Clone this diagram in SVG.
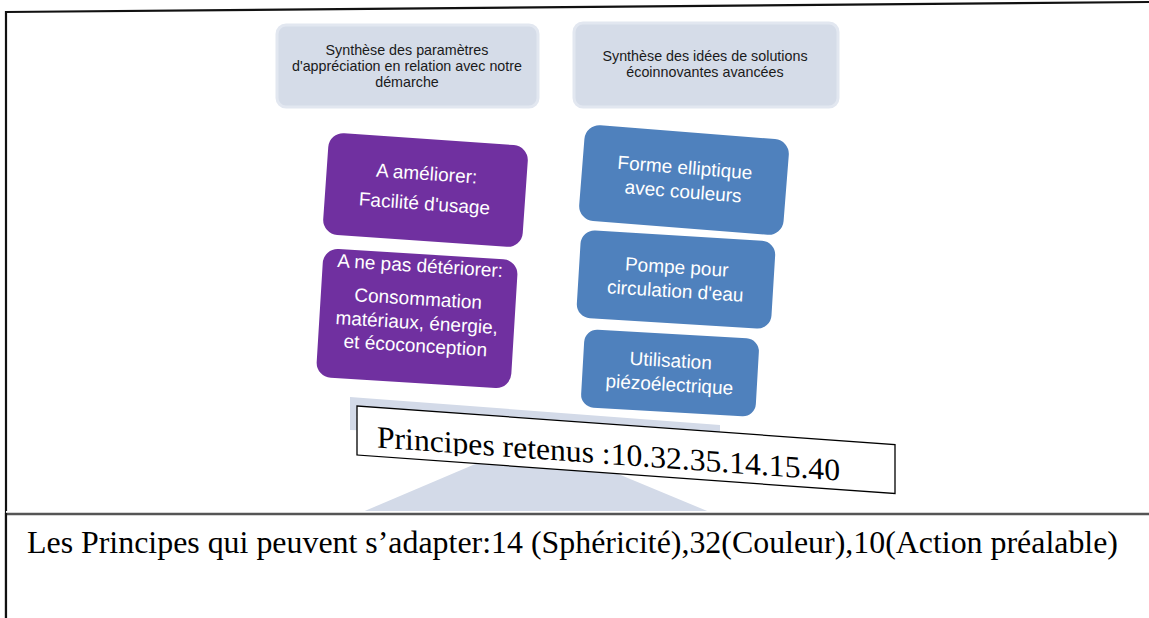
<svg xmlns="http://www.w3.org/2000/svg" width="1149" height="618" viewBox="0 0 1149 618">
  <defs>
    <style>
      .hdr { fill: #d5dce8; stroke: #e2e7f0; stroke-width: 3; }
      .hdrtxt { font-family: "Liberation Sans", Arial, sans-serif; font-size: 14.3px; fill: #1a1a1a; text-anchor: middle; }
      .purple { fill: #7030a0; }
      .blue { fill: #4f81bd; }
      .boxtxt { font-family: "Liberation Sans", Arial, sans-serif; font-size: 19px; fill: #ffffff; text-anchor: middle; }
      .balance { fill: #d3dae8; }
      .serif { font-family: "Liberation Serif", "Times New Roman", serif; fill: #000000; }
    </style>
    <clipPath id="labelClip">
      <rect x="0" y="0" width="539" height="43"/>
    </clipPath>
  </defs>

  <rect x="0" y="0" width="1149" height="618" fill="#ffffff"/>

  <!-- table frame -->
  <g id="frame" fill="none">
    <line x1="6" y1="12" x2="1149" y2="2" stroke="#111111" stroke-width="2.2"/>
    <line x1="6" y1="11" x2="6" y2="618" stroke="#111111" stroke-width="2.2"/>
  </g>

  <!-- balance base: beam and fulcrum -->
  <g id="balance">
    <polygon class="balance" points="350,397 720,425 720,440 350,430"/>
    <polygon class="balance" points="534,439 712,513 360,513"/>
  </g>

  <!-- header boxes -->
  <g id="header-left">
    <rect class="hdr" x="277" y="25" width="261" height="82" rx="9"/>
    <text class="hdrtxt" x="407" y="55">Synthèse des paramètres</text>
    <text class="hdrtxt" x="407" y="71">d'appréciation en relation avec notre</text>
    <text class="hdrtxt" x="407" y="87">démarche</text>
  </g>
  <g id="header-right">
    <rect class="hdr" x="574" y="23" width="264" height="84" rx="9"/>
    <text class="hdrtxt" x="705" y="61">Synthèse des idées de solutions</text>
    <text class="hdrtxt" x="705" y="77">écoinnovantes avancées</text>
  </g>

  <!-- left column -->
  <g id="ameliorer" transform="translate(425.5,190) rotate(4)">
    <rect class="purple" x="-100" y="-51" width="200" height="102" rx="15"/>
    <text class="boxtxt" x="0" y="-10">A améliorer:</text>
    <text class="boxtxt" x="0" y="20">Facilité d'usage</text>
  </g>
  <g id="ne-pas-deteriorer" transform="translate(417,319) rotate(3.5)">
    <rect class="purple" x="-97.5" y="-65" width="195" height="129" rx="15"/>
    <text class="boxtxt" x="0" y="-47">A ne pas détériorer:</text>
    <text class="boxtxt" x="0" y="-14">Consommation</text>
    <text class="boxtxt" x="0" y="10">matériaux, énergie,</text>
    <text class="boxtxt" x="0" y="33">et écoconception</text>
  </g>

  <!-- right column -->
  <g id="forme-elliptique" transform="translate(684,180) rotate(4.5)">
    <rect class="blue" x="-102.5" y="-48" width="205" height="96" rx="15"/>
    <text class="boxtxt" x="0" y="-6">Forme elliptique</text>
    <text class="boxtxt" x="0" y="18">avec couleurs</text>
  </g>
  <g id="pompe" transform="translate(676,279.5) rotate(3.5)">
    <rect class="blue" x="-97.5" y="-44" width="195" height="88" rx="14"/>
    <text class="boxtxt" x="0" y="-6">Pompe pour</text>
    <text class="boxtxt" x="0" y="18">circulation d'eau</text>
  </g>
  <g id="piezo" transform="translate(670,373) rotate(3.3)">
    <rect class="blue" x="-87.5" y="-39" width="175" height="78" rx="13"/>
    <text class="boxtxt" x="0" y="-6">Utilisation</text>
    <text class="boxtxt" x="0" y="18">piézoélectrique</text>
  </g>

  <!-- retained principles label -->
  <g id="principes-retenus" transform="translate(357,406) skewY(4.1)">
    <rect x="0" y="0" width="538" height="49" fill="#ffffff" stroke="#000000" stroke-width="1.3"/>
    <g clip-path="url(#labelClip)">
      <text class="serif" x="20" y="40" font-size="31" textLength="463" lengthAdjust="spacingAndGlyphs">Principes retenus :10.32.35.14.15.40</text>
    </g>
  </g>

  <!-- lower row -->
  <g id="row-divider">
    <rect x="6" y="511" width="1143" height="107" fill="#ffffff"/>
    <line x1="6" y1="514" x2="1149" y2="514" stroke="#555555" stroke-width="2.5"/>
    <line x1="6" y1="513" x2="6" y2="618" stroke="#111111" stroke-width="2.2"/>
  </g>
  <g id="adaptable-principles">
    <text class="serif" x="27" y="553" font-size="31" textLength="1091" lengthAdjust="spacingAndGlyphs">Les Principes qui peuvent s’adapter:14 (Sphéricité),32(Couleur),10(Action préalable)</text>
  </g>
</svg>
